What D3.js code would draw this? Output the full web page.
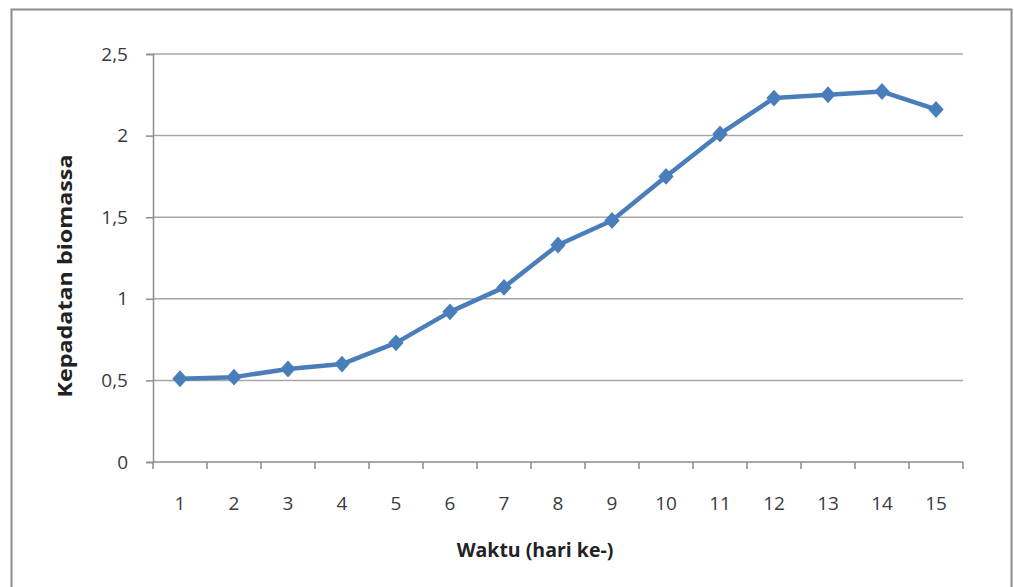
<!DOCTYPE html>
<html>
<head>
<meta charset="utf-8">
<script src="https://cdn.jsdelivr.net/npm/d3@7"></script>
<style>
  body { margin: 0; background: #fff; }
  svg { display: block; }
</style>
</head>
<body>
<div id="chart"></div>
<script>
var days = ["1","2","3","4","5","6","7","8","9","10","11","12","13","14","15"];
var biomass = [0.51, 0.52, 0.57, 0.60, 0.73, 0.92, 1.07, 1.33, 1.48, 1.75, 2.01, 2.23, 2.25, 2.27, 2.16];
var yTicks = [0, 0.5, 1, 1.5, 2, 2.5];

var W = 1014, H = 587;
var margin = {top: 54, right: 51, bottom: 125, left: 153},
    width = W - margin.left - margin.right,
    height = H - margin.top - margin.bottom;

var svg = d3.select("#chart").append("svg")
    .attr("width", W)
    .attr("height", H);

// chart frame
svg.append("rect")
    .attr("x", 11.5).attr("y", 9.5)
    .attr("width", 1000).attr("height", 600)
    .attr("fill", "none")
    .attr("stroke", "#8c8c8c")
    .attr("stroke-width", 2);

var g = svg.append("g")
    .attr("transform", "translate(" + margin.left + "," + margin.top + ")");

var x = d3.scaleBand()
    .domain(days)
    .range([0, width]);

var y = d3.scaleLinear()
    .domain([0, 2.5])
    .range([height, 0]);

var fmt = function(d){ return String(d).replace(".", ","); };

// grid lines
g.selectAll(".grid")
    .data(yTicks.filter(function(d){ return d > 0; }))
    .enter().append("line")
    .attr("x1", 0).attr("x2", width)
    .attr("y1", function(d){ return y(d); })
    .attr("y2", function(d){ return y(d); })
    .attr("stroke", "#a6a6a6")
    .attr("stroke-width", 1.5);

// y axis
var yAxis = g.append("g")
    .call(d3.axisLeft(y).tickValues(yTicks).tickFormat(fmt).tickSize(7).tickPadding(18));
yAxis.select(".domain").attr("stroke", "#8c8c8c").attr("stroke-width", 1.5);
yAxis.selectAll(".tick line").attr("stroke", "#8c8c8c").attr("stroke-width", 1.5);
yAxis.selectAll("text")
    .attr("font-family", "'Open Sans', sans-serif")
    .attr("font-size", 19)
    .attr("fill", "#3a3a3a");

// x axis with ticks between categories
var xAxis = g.append("g")
    .attr("transform", "translate(0," + height + ")");
xAxis.append("line")
    .attr("x1", 0).attr("x2", width)
    .attr("stroke", "#8c8c8c").attr("stroke-width", 1.5);
var bounds = days.map(function(d){ return x(d); }).concat([width]);
xAxis.selectAll(".xt")
    .data(bounds)
    .enter().append("line")
    .attr("x1", function(d){ return d; })
    .attr("x2", function(d){ return d; })
    .attr("y1", 0).attr("y2", 7)
    .attr("stroke", "#8c8c8c").attr("stroke-width", 1.5);
xAxis.selectAll(".xl")
    .data(days)
    .enter().append("text")
    .attr("x", function(d){ return x(d) + x.bandwidth() / 2; })
    .attr("y", 48)
    .attr("text-anchor", "middle")
    .attr("font-family", "'Open Sans', sans-serif")
    .attr("font-size", 19)
    .attr("fill", "#3a3a3a")
    .text(function(d){ return d; });

// axis titles
svg.append("text")
    .attr("x", 535).attr("y", 557)
    .attr("text-anchor", "middle")
    .attr("font-family", "'Open Sans', sans-serif")
    .attr("font-weight", "bold")
    .attr("font-size", 19.5)
    .attr("fill", "#222")
    .text("Waktu (hari ke-)");

svg.append("text")
    .attr("transform", "translate(72,276) rotate(-90)")
    .attr("text-anchor", "middle")
    .attr("font-family", "'Open Sans', sans-serif")
    .attr("font-weight", "bold")
    .attr("font-size", 20)
    .attr("textLength", 243)
    .attr("lengthAdjust", "spacingAndGlyphs")
    .attr("fill", "#222")
    .text("Kepadatan biomassa");

// line
var line = d3.line()
    .x(function(d, i){ return x(days[i]) + x.bandwidth() / 2; })
    .y(function(d){ return y(d); });

g.append("path")
    .datum(biomass)
    .attr("d", line)
    .attr("fill", "none")
    .attr("stroke", "#4a7ebb")
    .attr("stroke-width", 4.5)
    .attr("stroke-linejoin", "round");

// diamond markers
g.selectAll(".pt")
    .data(biomass)
    .enter().append("path")
    .attr("d", d3.symbol().type(d3.symbolDiamond2).size(150))
    .attr("transform", function(d, i){
        return "translate(" + (x(days[i]) + x.bandwidth() / 2) + "," + y(d) + ") scale(1,1.1)";
    })
    .attr("fill", "#4a7ebb");
</script>
</body>
</html>
